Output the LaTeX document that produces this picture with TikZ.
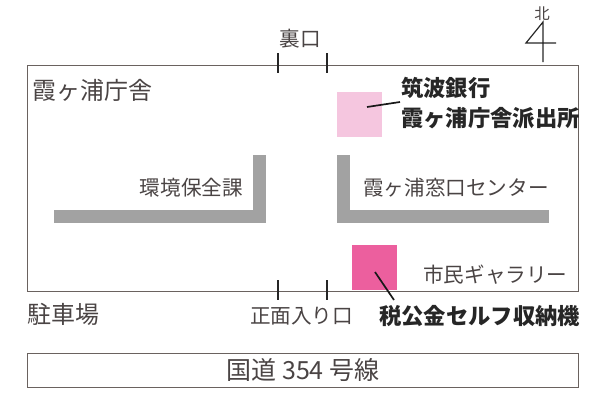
\documentclass[tikz,border=0pt]{standalone}
\usepackage{fontspec}
\setmainfont{Noto Sans CJK JP}
\usepackage{xcolor}
\usepackage{tikz}
\usetikzlibrary{positioning, calc}
\definecolor{linegray}{HTML}{6A625F}
\definecolor{wallgray}{HTML}{A2A2A2}
\definecolor{lightpink}{HTML}{F5C6DF}
\definecolor{deeppink}{HTML}{EC5F9E}
\definecolor{inkgray}{HTML}{4A4444}
\tikzset{
  frame/.style={draw=linegray, line width=0.9pt, minimum width=551pt, inner sep=0, anchor=north west},
  room/.style={draw=none, inner sep=0, minimum width=45pt, minimum height=45pt, anchor=north west},
  wall/.style={fill=wallgray, draw=none, inner sep=0, anchor=north west},
  tick/.style={draw=black!85, line width=1.2pt},
  leader/.style={draw=black!90, line width=1.7pt},
  lbl/.style={inner sep=0, text=inkgray, font=\fontsize{20.6}{20.6}\selectfont},
  lblbold/.style={inner sep=0, text=black!85, font=\fontsize{22.3}{22.3}\selectfont\bfseries, anchor=west},
}
\begin{document}
\begin{tikzpicture}[x=1pt, y=-1pt]
\useasboundingbox (0,0) rectangle (600,402);
\node (office) [frame, minimum height=226pt] at (27,65) {};
\node (road) [frame, minimum height=34pt] at (27,353) {};
\node (wallah) [wall, minimum width=212pt, minimum height=13pt] at (54,210) {};
\node (wallav) [wall, minimum width=13pt, minimum height=68pt] at (253,155) {};
\node (wallbv) [wall, minimum width=13pt, minimum height=68pt] at (337,155) {};
\node (wallbh) [wall, minimum width=212pt, minimum height=13pt] at (337,210) {};
\node (bank) [room, fill=lightpink] at (337,92) {};
\node (kiosk) [room, fill=deeppink] at (352,245) {};
\node (officename) [lbl, anchor=west, font=\fontsize{24}{24}\selectfont] at (32,90) {霞ヶ浦庁舎};
\node (parking) [lbl, anchor=west, font=\fontsize{24}{24}\selectfont] at (27,314) {駐車場};
\node (kankyo) [lbl, anchor=east] at (243,188) {環境保全課};
\node (madoguchi) [lbl, anchor=west] at (363,188) {霞ヶ浦窓口センター};
\node (gallery) [lbl, anchor=west] at (423,275) {市民ギャラリー};
\node (backdoor) [lbl] at (300,39) {裏口};
\node (frontdoor) [lbl] at (301.5,316) {正面入り口};
\node (roadname) [lbl, font=\fontsize{25}{25}\selectfont] at (303,370) {国道 354 号線};
\node (bankname) [lblbold] at (401,88) {筑波銀行};
\node (bankbranch) [lblbold] at (401,118) {霞ヶ浦庁舎派出所};
\node (kioskname) [lblbold] at (379,316) {税公金セルフ収納機};
\node (north) [lbl, font=\fontsize{15.5}{15.5}\selectfont] at (542,14) {北};
\coordinate (bl) at (367,107);
\coordinate (br) at (400,102);
\coordinate (kl) at (375,272);
\coordinate (kr) at (394,300);
\draw [leader] (bl) -- (br);
\draw [leader] (kl) -- (kr);
\foreach \tx in {278,327} {
  \coordinate (ta\tx) at (\tx,53);
  \coordinate (tb\tx) at (\tx,73);
  \coordinate (tc\tx) at (\tx,280);
  \coordinate (td\tx) at (\tx,300);
  \draw [tick] (ta\tx) -- (tb\tx);
  \draw [tick] (tc\tx) -- (td\tx);
}
\coordinate (ntop) at (543,22);
\coordinate (nbot) at (543,62);
\coordinate (nleft) at (526,43);
\coordinate (nright) at (556,43);
\draw [tick, line join=miter] (nbot) -- (ntop) -- (nleft) -- (nright);
\end{tikzpicture}
\end{document}
